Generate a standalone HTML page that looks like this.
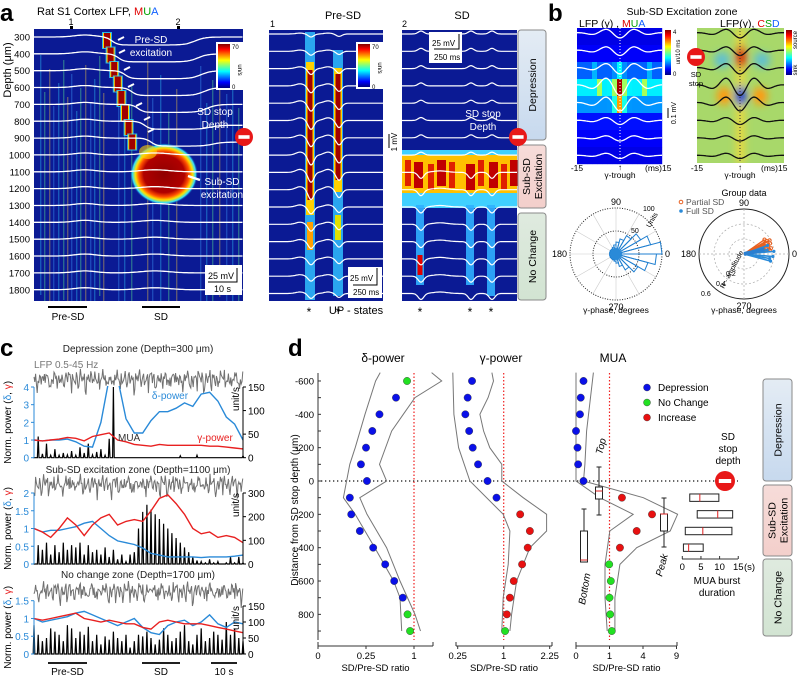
<!DOCTYPE html>
<html><head><meta charset="utf-8">
<style>
body{margin:0;background:#fff;}
svg{display:block;font-family:"Liberation Sans",Arial,sans-serif;}
</style></head><body>
<svg id="fig" width="800" height="676" viewBox="0 0 800 676" xmlns="http://www.w3.org/2000/svg">
<defs>
<linearGradient id="jetv" x1="0" y1="0" x2="0" y2="1">
<stop offset="0" stop-color="#800000"/><stop offset="0.12" stop-color="#ff0000"/><stop offset="0.37" stop-color="#ffff00"/><stop offset="0.62" stop-color="#00ffff"/><stop offset="0.87" stop-color="#0000ff"/><stop offset="1" stop-color="#000080"/>
</linearGradient>
<radialGradient id="blob" cx="0.5" cy="0.5" r="0.5">
<stop offset="0" stop-color="#900000"/><stop offset="0.6" stop-color="#b00000"/><stop offset="0.74" stop-color="#ff5000"/><stop offset="0.84" stop-color="#ffe000"/><stop offset="0.93" stop-color="#30e0ff"/><stop offset="1" stop-color="#0b1a94" stop-opacity="0"/>
</radialGradient>
<linearGradient id="gDep" x1="0" y1="0" x2="0" y2="1"><stop offset="0" stop-color="#e4ecf4"/><stop offset="1" stop-color="#c7d9ee"/></linearGradient>
<linearGradient id="gSub" x1="0" y1="0" x2="0" y2="1"><stop offset="0" stop-color="#f6dcd9"/><stop offset="1" stop-color="#f3cfcb"/></linearGradient>
<linearGradient id="gNo" x1="0" y1="0" x2="0" y2="1"><stop offset="0" stop-color="#dfeadf"/><stop offset="1" stop-color="#d2e4d2"/></linearGradient>
<filter id="blur3"><feGaussianBlur stdDeviation="4"/></filter>
<clipPath id="clipA"><rect x="34" y="29" width="209" height="272"/></clipPath>
<clipPath id="clipC1"><rect x="30" y="386" width="215" height="75"/></clipPath>
<clipPath id="clipBR"><rect x="697" y="28" width="87" height="135"/></clipPath>
</defs>

<text x="0" y="21" font-size="24" font-weight="bold">a</text>
<text x="548" y="21" font-size="24" font-weight="bold">b</text>
<text x="0" y="356" font-size="24" font-weight="bold">c</text>
<text x="288" y="356" font-size="24" font-weight="bold">d</text>

<text x="37" y="15" font-size="11">Rat S1 Cortex LFP, <tspan fill="#e00000">M</tspan><tspan fill="#00a000">U</tspan><tspan fill="#1060ff">A</tspan></text>
<text x="71" y="25" font-size="9" text-anchor="middle">1</text>
<rect x="70" y="26" width="3" height="3" fill="#000"/>
<text x="178" y="25" font-size="9" text-anchor="middle">2</text>
<rect x="177" y="26" width="3" height="3" fill="#000"/>
<text x="11" y="70" font-size="11" text-anchor="middle" transform="rotate(-90 11 70)">Depth (μm)</text>
<g id="gA"></g>
<text x="343" y="19" font-size="11" text-anchor="middle">Pre-SD</text>
<text x="462" y="19" font-size="11" text-anchor="middle">SD</text>
<text x="270" y="27" font-size="9">1</text>
<text x="402" y="27" font-size="9">2</text>
<g id="gM"></g>
<g id="gB"></g>
<g id="gC"></g>
<g id="gD"></g>
</svg>
<script>
const NS='http://www.w3.org/2000/svg';
function mk(tag,attrs,parent){const e=document.createElementNS(NS,tag);for(const k in attrs)e.setAttribute(k,attrs[k]);parent.appendChild(e);return e;}
function txt(s,x,y,attrs,parent){const e=mk('text',Object.assign({x:x,y:y,'font-size':10},attrs),parent);e.textContent=s;return e;}
function jet(t){t=Math.max(0,Math.min(1,t));const c=v=>Math.round(255*Math.max(0,Math.min(1,v)));return `rgb(${c(1.5-Math.abs(4*t-3))},${c(1.5-Math.abs(4*t-2))},${c(1.5-Math.abs(4*t-1))})`;}
function pts(arr){return arr.map(p=>p[0].toFixed(1)+','+p[1].toFixed(1)).join(' ');}

/* ================= DATA: panel d ================= */
const dDepths=[-600,-500,-400,-300,-200,-100,0,100,200,300,400,500,600,700,800,900];
const deltaVals=[0.86,0.66,0.41,0.32,0.25,0.20,0.26,0.11,0.12,0.19,0.33,0.49,0.63,0.78,0.87,0.92];
const deltaCls=['n','d','d','d','d','d','d','d','d','d','d','d','d','d','n','n'];
const gammaVals=[0.43,0.37,0.34,0.39,0.44,0.52,0.68,0.85,1.39,1.65,1.59,1.44,1.23,1.14,1.07,1.03];
const gammaCls=['d','d','d','d','d','d','d','d','i','i','i','i','i','i','i','n'];
const muaVals=[0.05,0.02,0.014,0,0.002,0.004,0.05,1.88,5.15,3.28,1.72,0.98,1.08,1.0,1.04,1.14];
const muaCls=['d','d','d','d','d','d','d','i','i','i','i','n','n','n','n','n'];
const deltaEnvLoD=[-650,-600,-400,-200,-100,100,200,400,600,700,900];
const deltaEnvLo=[0.42,0.36,0.24,0.15,0.11,0.07,0.15,0.35,0.62,0.73,0.76];
const deltaEnvHiD=[-650,-600,-500,-400,-300,-100,0,100,200,400,600,800,900];
const deltaEnvHi=[1.40,1.66,1.02,0.79,0.59,0.41,0.51,0.19,0.26,0.51,0.73,1.02,1.14];
const gammaEnvLoD=[-650,-400,-200,0,200,300,500,700,900];
const gammaEnvLo=[0.20,0.21,0.26,0.40,0.99,1.14,1.10,0.99,0.96];
const gammaEnvHiD=[-650,-600,-500,-400,-300,-200,-100,0,100,200,300,400,600,800,900];
const gammaEnvHi=[0.76,0.79,0.69,0.55,0.61,0.72,0.96,0.96,1.47,2.15,2.15,1.65,1.30,1.18,1.14];
const muaEnvLoD=[-650,0,100,200,300,500,700,900];
const muaEnvLo=[0,0,0.51,2.92,1.02,0.75,0.75,0.87];
const muaEnvHiD=[-650,-300,-100,0,100,200,300,400,500,700,900];
const muaEnvHi=[0.27,0.10,0.07,0.05,4.04,9.2,7.9,3.28,1.72,1.35,1.35];
const boxTop=[-84,36,60,108,204];
const boxBottom=[168,300,474,486,486];
const boxPeak=[102,198,198,300,396];
const burstDepths=[100,200,300,400];
const burstLo=[2,4,0.8,0.3];
const burstHi=[9.8,13.5,13.3,5.6];
const burstMed=[4.7,9.5,5.5,1.7];
const depthTicks=[-600,-400,-200,0,200,400,600,800];
const deltaTicks=[0,0.25,1];
const gammaTicks=[0.25,1,2.25];
const muaTicks=[0,1,4,9];
const burstTicks=[0,5,10,15];

/* ================= DATA: panel c ================= */
const cT=[0,4,8,12,16,20,24,28,32,36,40,44,48,52,56,60,64,68,72,76,80,84,88,92,96,100];
const delta1=[1.0,0.95,1.0,1.0,1.05,0.9,0.65,0.6,2.0,4.5,4.5,2.2,1.4,1.4,2.1,2.6,2.6,2.8,3.1,2.9,3.6,3.7,3.2,2.3,1.9,1.0];
const gamma1=[1.0,0.95,1.0,1.05,1.15,1.1,0.95,1.2,1.3,1.4,1.0,0.9,0.75,0.7,0.65,0.75,0.7,0.7,0.7,0.7,0.7,0.65,0.65,0.6,0.55,0.5];
const mua1=[0,45,8,30,5,18,5,10,6,14,5,22,10,30,6,12,18,5,40,150,0,0,0,0,0,0,0,0,0,0,0,0,0,0,0,4,0,0,0,5,0,0,0,0,0,0,0,0,0,0,4];
const delta2=[1.0,0.9,0.95,0.95,1.0,1.05,1.15,1.2,1.0,0.8,0.65,0.6,0.55,0.45,0.3,0.25,0.2,0.2,0.2,0.2,0.18,0.2,0.2,0.2,0.22,0.25];
const gamma2=[1.0,0.9,0.75,1.0,1.3,1.1,0.8,1.1,1.3,1.4,1.1,1.2,1.25,1.2,1.5,1.85,1.95,1.7,1.4,1.0,0.85,0.9,0.75,0.8,0.75,0.6];
const mua2=[0,80,60,90,40,80,50,90,60,80,70,90,40,80,50,60,40,70,30,60,20,40,10,40,50,150,220,250,230,210,190,170,150,130,110,90,70,50,30,15,10,5,20,5,10,0,5,30,5,30,5];
const delta3=[1.0,0.9,0.95,1.0,1.05,1.15,1.2,1.1,1.0,0.9,0.8,0.9,1.0,0.75,0.6,0.55,0.8,0.9,0.95,0.8,0.9,1.1,0.85,0.75,0.9,0.85];
const gamma3=[1.0,0.95,1.0,1.05,1.1,1.15,1.0,0.95,0.9,0.95,0.9,0.85,0.85,0.75,0.7,0.9,0.95,0.9,0.85,0.85,0.85,0.8,0.75,0.7,0.65,0.6];
const mua3=[90,60,40,50,80,70,60,40,90,80,50,70,60,85,40,60,30,55,45,70,50,40,60,20,40,60,55,70,50,30,45,80,60,40,50,70,90,40,30,60,80,40,50,70,60,45,100,60,80,50,40];

/* ================= DATA: panel b ================= */
const roseCounts=[100,78,62,46,34,26,20,16,14,14,14,14,14,14,14,14,14,16,20,28,40,55,72,88];
const gpPartialAng=[12,18,25,30,22,35,8,15,28];
const gpPartialR=[0.55,0.5,0.48,0.52,0.56,0.5,0.52,0.45,0.58];
const gpFullAng=[-5,-15,5,20,10,-10];
const gpFullR=[0.58,0.55,0.6,0.5,0.47,0.52];

const gA=document.getElementById('gA'),gM=document.getElementById('gM'),gB=document.getElementById('gB'),gC=document.getElementById('gC'),gD=document.getElementById('gD');
const BLUE_BG='#0b1a94';

/* ================= Panel a main heatmap ================= */
(function(){
  const hm=mk('g',{'clip-path':'url(#clipA)'},gA);
  mk('rect',{x:34,y:29,width:209,height:272,fill:BLUE_BG},hm);
  const nx=[40,44,49,53,58,63,67,71,76,80,85,90,94,99,103,118,124,131,147,152,160,168,176,200,206,212,219,226,232,238];
  nx.forEach((x,k)=>{mk('rect',{x:x,y:55+(k*37)%60,width:1.4,height:240,fill:['#30d0ff','#60ff90','#ffd040','#40a0ff'][k%4],opacity:0.35},hm);});
  for(let k=0;k<8;k++){
    const cx=107+k*3.6,y=32+k*14.5;
    mk('rect',{x:cx-5,y:y,width:10,height:17,fill:'#30e0ff',opacity:0.8},hm);
    mk('rect',{x:cx-4,y:y+1,width:8,height:15,fill:'#ffd000'},hm);
    mk('rect',{x:cx-3,y:y+1,width:6,height:15,fill:'#a00000'},hm);
  }
  mk('ellipse',{cx:164,cy:174,rx:34,ry:31,fill:'url(#blob)'},hm);
  mk('ellipse',{cx:148,cy:152,rx:9,ry:7,fill:'#ffd000',opacity:0.6},hm);
  for(let i=0;i<16;i++){
    const y0=37+i*16.85,p=[];
    for(let x=34;x<=243;x+=1.5){
      let y=y0-2*Math.exp(-Math.pow((x-85)/15,2));
      if(i<=6){const xs=112+i*6.5;y+=8/(1+Math.exp(-(x-xs)/3));const xr=195+i*3;y-=(i<=4?8:4)/(1+Math.exp(-(x-xr)/5));}
      else{y-=2*Math.exp(-Math.pow((x-155)/20,2));}
      p.push([x,y]);
    }
    const tr=mk('polyline',{points:pts(p),fill:'none',stroke:'#fff','stroke-width':1.3},hm);
    
    
  }
  mk('rect',{x:216,y:42,width:28,height:48,fill:'#fff'},gA);
  const cb=mk('rect',{x:218,y:44,width:12,height:44,fill:'url(#jetv)'},gA);
  
  
  txt('70',232,49,{'font-size':6},gA);txt('0',232,89,{'font-size':6},gA);
  txt('un/s',238,70,{'font-size':6,transform:'rotate(90 238 70)','text-anchor':'middle'},gA);
  for(let d=300;d<=1800;d+=100){const t=txt(String(d),30,37+(d-300)*0.1685+3.5,{'font-size':9.5,'text-anchor':'end'},gA);}
  txt('Pre-SD',151,43,{'font-size':10,fill:'#fff','text-anchor':'middle'},gA);
  txt('excitation',151,56,{'font-size':10,fill:'#fff','text-anchor':'middle'},gA);
  txt('SD stop',215,115,{'font-size':10,fill:'#fff','text-anchor':'middle'},gA);
  txt('Depth',215,128,{'font-size':10,fill:'#fff','text-anchor':'middle'},gA);
  txt('Sub-SD',222,185,{'font-size':10,fill:'#fff','text-anchor':'middle'},gA);
  txt('excitation',222,198,{'font-size':10,fill:'#fff','text-anchor':'middle'},gA);
  [[118,40],[119,53],[124,70],[128,87],[136,106],[144,120],[148,132]].forEach(a=>{mk('line',{x1:a[0]+6,y1:a[1]-3,x2:a[0],y2:a[1],stroke:'#fff','stroke-width':2},gA);});
  mk('line',{x1:200,y1:180,x2:188,y2:176,stroke:'#fff','stroke-width':2.5},gA);
  function stop(cx,cy,r,par){const g=mk('g',{},par);mk('circle',{cx:cx,cy:cy,r:r,fill:'#e81818'},g);mk('rect',{x:cx-r*0.62,y:cy-r*0.2,width:r*1.24,height:r*0.4,fill:'#fff'},g);return g;}
  window.stop=stop;
  const s1=stop(244,137,9,gA);
  mk('rect',{x:205,y:265,width:37,height:30,fill:'#fff'},gA);
  txt('25 mV',208,279,{'font-size':9},gA);txt('10 s',214,292,{'font-size':9},gA);
  mk('polyline',{points:'237,268 237,282 208,282',fill:'none',stroke:'#000','stroke-width':1},gA);
  mk('line',{x1:48,y1:307,x2:87,y2:307,stroke:'#000','stroke-width':2},gA);
  mk('line',{x1:142,y1:307,x2:180,y2:307,stroke:'#000','stroke-width':2},gA);
  txt('Pre-SD',68,320,{'font-size':10,'text-anchor':'middle'},gA);
  txt('SD',161,320,{'font-size':10,'text-anchor':'middle'},gA);
})();

/* ================= Panel a zoom panels ================= */
(function(){
  mk('rect',{x:269,y:30,width:114,height:271,fill:BLUE_BG},gM);
  mk('rect',{x:402,y:30,width:115,height:271,fill:BLUE_BG},gM);
  function col(x,y1,y2,w,c,op){mk('rect',{x:x-w/2,y:y1,width:w,height:y2-y1,fill:c,opacity:op||1},gM);}
  col(310,32,300,10,'#30c0ff',0.85);col(310,62,215,8,'#ffd000');col(310,70,200,5,'#a00000');col(310,222,250,6,'#ffa000');
  col(338,50,296,10,'#30c0ff',0.85);col(338,68,192,8,'#ffd000');col(338,74,180,5,'#a00000');col(338,215,240,6,'#e0e000');
  mk('rect',{x:402,y:150,width:115,height:58,fill:'#40d0ff'},gM);
  mk('rect',{x:402,y:155,width:115,height:38,fill:'#ffc000'},gM);
  [405,414,428,437,449,466,478,489,501,510].forEach((x,k)=>{mk('rect',{x:x,y:160+(k%3)*2,width:6+(k%2)*3,height:26,fill:k%2?'#c00000':'#e02000'},gM);});
  col(420,205,285,8,'#30b0ff',0.9);col(420,255,275,5,'#e00000');
  col(470,205,285,8,'#30b0ff',0.9);col(491,205,296,8,'#30b0ff',0.9);
  const ampP=[3,4,6,7,8,9,9,10,10,10,7,7,7,6,5,5];
  for(let i=0;i<16;i++){
    const y0=34+i*17.3;let p=[];
    for(let x=269;x<=383;x+=1){const g=dx=>Math.exp(-Math.pow(dx/4,2));let y=y0+ampP[i]*(g(x-311)+0.8*g(x-339))-0.3*ampP[i]*(Math.exp(-Math.pow((x-300)/6,2))+Math.exp(-Math.pow((x-328)/6,2)));p.push([x,y]);}
    const t1=mk('polyline',{points:pts(p),fill:'none',stroke:'#fff','stroke-width':1.2},gM);
    
    
    p=[];
    for(let x=402;x<=517;x+=1){const g=dx=>Math.exp(-Math.pow(dx/4,2));const s=(g(x-421)+g(x-471)+g(x-492));let y=i<8?y0-3*s:y0+6*s-1.5*Math.exp(-Math.pow((x-440)/10,2));p.push([x,y]);}
    const t2=mk('polyline',{points:pts(p),fill:'none',stroke:'#fff','stroke-width':1.2},gM);
    
    
  }
  mk('rect',{x:356,y:42,width:27,height:47,fill:'#fff'},gM);
  mk('rect',{x:358,y:44,width:12,height:43,fill:'url(#jetv)'},gM);
  txt('70',372,49,{'font-size':6},gM);txt('0',372,89,{'font-size':6},gM);
  txt('un/s',378,68,{'font-size':6,transform:'rotate(90 378 68)','text-anchor':'middle'},gM);
  mk('rect',{x:348,y:267,width:34,height:31,fill:'#fff'},gM);
  txt('25 mV',350,281,{'font-size':8},gM);txt('250 ms',353,295,{'font-size':8},gM);
  mk('polyline',{points:'377,268 377,285 353,285',fill:'none',stroke:'#000'},gM);
  mk('rect',{x:429,y:32,width:33,height:31,fill:'#fff'},gM);
  txt('25 mV',432,46,{'font-size':8},gM);txt('250 ms',434,60,{'font-size':8},gM);
  mk('polyline',{points:'459,34 459,49 434,49',fill:'none',stroke:'#000'},gM);
  mk('line',{x1:389,y1:134,x2:389,y2:148,stroke:'#000'},gM);
  txt('1 mV',397,142,{'font-size':8,transform:'rotate(-90 397 142)','text-anchor':'middle'},gM);
  txt('SD stop',483,117,{'font-size':10,fill:'#fff','text-anchor':'middle'},gM);
  txt('Depth',483,130,{'font-size':10,fill:'#fff','text-anchor':'middle'},gM);
  [309,338,420,470,491].forEach(x=>{const s=txt('*',x,316,{'font-size':12,'text-anchor':'middle'},gM);});
  txt('UP - states',356,314,{'font-size':11,'text-anchor':'middle'},gM);
  function zone(y,h,fill,label,name,par,x,w){const g=mk('g',{},par);mk('rect',{x:x,y:y,width:w,height:h,rx:3,fill:fill,stroke:'#8a8a8a','stroke-width':1},g);const cx=x+w/2,cy=y+h/2;const lines=label.split('|');lines.forEach((l,k)=>{const lx=cx+4+(k-(lines.length-1)/2)*12;txt(l,lx,cy,{'font-size':10.5,'text-anchor':'middle',transform:`rotate(-90 ${lx} ${cy})`},g);});}
  window.zone=zone;
  zone(30,110,'url(#gDep)','Depression','zone-depression',gM,518,28);
  zone(145,63,'url(#gSub)','Sub-SD|Excitation','zone-sub-sd',gM,518,28);
  zone(213,87,'url(#gNo)','No Change','zone-no-change',gM,518,28);
  const s2=stop(518,137,9,gM);
})();

/* ================= Panel b ================= */
(function(){
  txt('Sub-SD Excitation zone',682,15,{'font-size':10.5,'text-anchor':'middle'},gB);
  const t1=txt('',579,27,{'font-size':10.5},gB);t1.innerHTML='LFP (γ) , <tspan fill="#e00000">M</tspan><tspan fill="#00a000">U</tspan><tspan fill="#1060ff">A</tspan>';
  const t2=txt('',720,27,{'font-size':10.5},gB);t2.innerHTML='LFP(γ), <tspan fill="#e00000">C</tspan><tspan fill="#00a000">S</tspan><tspan fill="#1060ff">D</tspan>';
  const rowBase=[0.1,0.12,0.22,0.36,0.27,0.14,0.12,0.1];
  for(let r=0;r<8;r++)for(let c=0;c<17;c++){
    let v=rowBase[r]+(r>=2&&r<=4?[0.15,0.6,0.45][r-2]:0)*Math.exp(-Math.pow(c-8,2)/0.8);
    if(r===3&&(c===4||c===13))v+=0.18;
    if(r===2&&(c===3||c===14))v+=0.08;
    mk('rect',{x:577+c*5,y:28+r*17,width:5.2,height:17.2,fill:jet(v)},gB);
  }
  const rb=mk('g',{'clip-path':'url(#clipBR)'},gB);
  mk('rect',{x:697,y:28,width:87,height:135,fill:'#a8d86a'},rb);
  const bl=mk('g',{filter:'url(#blur3)'},rb);
  mk('rect',{x:736,y:28,width:9,height:135,fill:'#e8d840'},bl);
  mk('ellipse',{cx:741,cy:57,rx:5,ry:12,fill:'#e02000'},bl);
  mk('ellipse',{cx:741,cy:96,rx:5,ry:10,fill:'#1030e0'},bl);
  mk('ellipse',{cx:724,cy:96,rx:7,ry:9,fill:'#ff9a10'},bl);
  mk('ellipse',{cx:760,cy:96,rx:7,ry:9,fill:'#ff9a10'},bl);
  mk('ellipse',{cx:722,cy:60,rx:8,ry:8,fill:'#60c0d0'},bl);
  mk('ellipse',{cx:762,cy:60,rx:8,ry:8,fill:'#60c0d0'},bl);
  const A=[5,5,6,10,8,4,3,3];
  for(let i=0;i<8;i++){
    const y0=33+i*17.5;
    [[577,662,620,'#fff'],[697,784,740,'#111']].forEach(q=>{
      const p=[];for(let x=q[0];x<=q[1];x+=1){const d=x-q[2];p.push([x,y0+A[i]*Math.cos(2*Math.PI*d/30)*Math.exp(-Math.pow(d/26,2))]);}
      const l=mk('polyline',{points:pts(p),fill:'none',stroke:q[3],'stroke-width':1.3},q[3]==='#fff'?gB:rb);
      
      
    });
  }
  mk('line',{x1:620,y1:28,x2:620,y2:163,stroke:'#fff','stroke-dasharray':'1,2'},gB);
  mk('line',{x1:740,y1:28,x2:740,y2:163,stroke:'#333','stroke-dasharray':'1,2'},gB);
  mk('rect',{x:665,y:30,width:6,height:45,fill:'url(#jetv)'},gB);
  txt('4',673,34,{'font-size':6},gB);txt('0',673,76,{'font-size':6},gB);
  txt('un/10 ms',680,52,{'font-size':6,transform:'rotate(-90 680 52)','text-anchor':'middle'},gB);
  mk('line',{x1:668,y1:108,x2:668,y2:118,stroke:'#000'},gB);
  txt('0.1 mV',676,113,{'font-size':7,transform:'rotate(-90 676 113)','text-anchor':'middle'},gB);
  mk('rect',{x:786,y:30,width:6,height:45,fill:'url(#jetv)'},gB);
  txt('source',797,40,{'font-size':6,transform:'rotate(-90 797 40)','text-anchor':'middle'},gB);
  txt('sink',797,70,{'font-size':6,transform:'rotate(-90 797 70)','text-anchor':'middle'},gB);
  const s3=stop(696,57,9,gB);
  txt('SD',696,77,{'font-size':7.5,'text-anchor':'middle'},gB);txt('stop',696,86,{'font-size':7.5,'text-anchor':'middle'},gB);
  [[577,'-15'],[697,'-15']].forEach(a=>txt(a[1],a[0],171,{'font-size':8.5,'text-anchor':'middle'},gB));
  txt('(ms)15',645,171,{'font-size':8.5},gB);txt('(ms)15',761,171,{'font-size':8.5},gB);
  txt('↑',620,170,{'font-size':8,'text-anchor':'middle'},gB);txt('↑',740,170,{'font-size':8,'text-anchor':'middle'},gB);
  txt('γ-trough',620,178,{'font-size':8.5,'text-anchor':'middle'},gB);txt('γ-trough',740,178,{'font-size':8.5,'text-anchor':'middle'},gB);
  const cx=616,cy=254,R=46;
  mk('circle',{cx:cx,cy:cy,r:R,fill:'none',stroke:'#222','stroke-dasharray':'1,1.5'},gB);
  mk('circle',{cx:cx,cy:cy,r:R*0.5,fill:'none',stroke:'#222','stroke-dasharray':'1,1.5'},gB);
  for(let a=0;a<180;a+=30){const r=a*Math.PI/180;mk('line',{x1:cx-R*Math.cos(r),y1:cy+R*Math.sin(r),x2:cx+R*Math.cos(r),y2:cy-R*Math.sin(r),stroke:'#ccc','stroke-width':0.6},gB);}
  roseCounts.forEach((c,k)=>{const a0=k*15*Math.PI/180,a1=(k+1)*15*Math.PI/180,r=c/100*R;
    const pth=mk('path',{d:`M${cx},${cy} L${cx+r*Math.cos(a0)},${cy-r*Math.sin(a0)} L${cx+r*Math.cos(a1)},${cy-r*Math.sin(a1)} Z`,fill:'none',stroke:'#1f7fd0','stroke-width':1},gB);
    
    });
  mk('circle',{cx:cx,cy:cy,r:6,fill:'#2a8ad8'},gB);
  txt('90',cx,cy-R-3,{'font-size':9,'text-anchor':'middle'},gB);txt('180',cx-R-3,cy+3,{'font-size':9,'text-anchor':'end'},gB);
  txt('0',cx+R+3,cy+3,{'font-size':9},gB);txt('270',cx,cy+R+10,{'font-size':9,'text-anchor':'middle'},gB);
  txt('100',cx+27,cy-43,{'font-size':7},gB);txt('50',cx+15,cy-21,{'font-size':7},gB);
  txt('Units',cx+34,cy-26,{'font-size':7,transform:`rotate(-60 ${cx+34} ${cy-26})`},gB);
  txt('γ-phase, degrees',cx,313,{'font-size':8.5,'text-anchor':'middle'},gB);
  const gx=744,gy=254,GR=45;
  txt('Group data',gx,196,{'font-size':9,'text-anchor':'middle'},gB);
  mk('circle',{cx:gx,cy:gy,r:GR,fill:'none',stroke:'#222','stroke-width':1},gB);
  [GR*2/3,GR/3].forEach(r=>mk('circle',{cx:gx,cy:gy,r:r,fill:'none',stroke:'#aaa','stroke-dasharray':'2,2','stroke-width':0.7},gB));
  mk('line',{x1:gx-GR,y1:gy,x2:gx+GR,y2:gy,stroke:'#aaa','stroke-dasharray':'2,2','stroke-width':0.7},gB);
  mk('line',{x1:gx,y1:gy-GR,x2:gx,y2:gy+GR,stroke:'#aaa','stroke-dasharray':'2,2','stroke-width':0.7},gB);
  const pol=(a,r)=>[gx+r/0.9*GR*Math.cos(a*Math.PI/180),gy-r/0.9*GR*Math.sin(a*Math.PI/180)];
  gpPartialAng.forEach((a,k)=>{const p=pol(a,gpPartialR[k]);mk('line',{x1:gx,y1:gy,x2:p[0],y2:p[1],stroke:'#e86020','stroke-width':1.4},gB);const c=mk('circle',{cx:p[0],cy:p[1],r:1.6,fill:'none',stroke:'#e86020'},gB);});
  gpFullAng.forEach((a,k)=>{const p=pol(a,gpFullR[k]);mk('line',{x1:gx,y1:gy,x2:p[0],y2:p[1],stroke:'#2a8ad8','stroke-width':1.6},gB);const c=mk('circle',{cx:p[0],cy:p[1],r:1.6,fill:'#2a8ad8'},gB);});
  const pe=pol(12,0.42);mk('line',{x1:gx,y1:gy,x2:pe[0],y2:pe[1],stroke:'#2a7fd0','stroke-width':4},gB);
  txt('90',gx,gy-GR-3,{'font-size':9,'text-anchor':'middle'},gB);txt('180',gx-GR-3,gy+3,{'font-size':9,'text-anchor':'end'},gB);
  txt('0',gx+GR+3,gy+3,{'font-size':9},gB);txt('270',gx,gy+GR+10,{'font-size':9,'text-anchor':'middle'},gB);
  txt('0.2',gx-18,gy+22,{'font-size':7},gB);txt('0.4',gx-28,gy+32,{'font-size':7},gB);txt('0.6',gx-43,gy+42,{'font-size':7},gB);
  txt('R - amplitude',gx-20,gy+35,{'font-size':7,transform:`rotate(-62 ${gx-20} ${gy+35})`},gB);
  txt('γ-phase, degrees',gx,313,{'font-size':8.5,'text-anchor':'middle'},gB);
  mk('circle',{cx:681,cy:202,r:1.8,fill:'none',stroke:'#e86020'},gB);txt('Partial SD',686,205,{'font-size':8.5,fill:'#555'},gB);
  mk('circle',{cx:681,cy:211,r:1.8,fill:'#2a8ad8'},gB);txt('Full SD',686,214,{'font-size':8.5,fill:'#555'},gB);
})();

/* ================= Panel c ================= */
(function(){
  const X0=34,X1=243,xs=t=>X0+t*(X1-X0)/100;
  const plots=[
    {title:'Depression zone (Depth=300 μm)',ty:352,base:457.7,top:387,vmax:4,ticksL:[0,1,2,3,4],mmax:150,mtop:387,ticksR:[0,50,100,150],lfp:378,d:delta1,g:gamma1,m:mua1,clip:true},
    {title:'Sub-SD excitation zone (Depth=1100 μm)',ty:473,base:564,top:493,vmax:2,ticksL:[0,0.5,1,1.5,2],mmax:300,mtop:493,ticksR:[0,100,200,300],lfp:483,d:delta2,g:gamma2,m:mua2},
    {title:'No change zone (Depth=1700 μm)',ty:578,base:654,top:600.7,vmax:1.5,ticksL:[0,0.5,1,1.5],mmax:150,mtop:606,ticksR:[0,50,100,150],lfp:590,d:delta3,g:gamma3,m:mua3}
  ];
  plots.forEach((P,pi)=>{
    const g=mk('g',{},gC);
    
    
    txt(P.title,138,P.ty,{'font-size':10,'text-anchor':'middle',fill:'#222'},g);
    const ys=v=>P.base-v*(P.base-P.top)/P.vmax, ym=v=>P.base-v*(P.base-P.mtop)/P.mmax;
    let lp=[];for(let x=X0;x<=X1;x+=0.8){const n=Math.sin(x*1.7)+Math.sin(x*3.1+pi)*0.8+Math.sin(x*0.53)*0.6;lp.push([x,P.lfp+n*4+(Math.sin(x*0.9+pi*2)>0.85?9:0)]);}
    const lf=mk('polyline',{points:pts(lp),fill:'none',stroke:'#707070','stroke-width':1},g);
    
    
    let mp=[];P.m.forEach((v,k)=>{const x=xs(k*2);mp.push([x-0.8,P.base],[x,ym(v)],[x+0.8,P.base]);});
    const mu=mk('polyline',{points:pts(mp),fill:'none',stroke:'#000','stroke-width':1.2},g);
    
    
    const holder=P.clip?mk('g',{'clip-path':'url(#clipC1)'},g):g;
    const dl=mk('polyline',{points:pts(cT.map((t,k)=>[xs(t),ys(P.d[k])])),fill:'none',stroke:'#2a8ad8','stroke-width':1.4},holder);
    
    
    const gl=mk('polyline',{points:pts(cT.map((t,k)=>[xs(t),ys(P.g[k])])),fill:'none',stroke:'#e82020','stroke-width':1.4},holder);
    
    
    mk('line',{x1:X0,y1:P.top,x2:X0,y2:P.base,stroke:'#2a8ad8'},g);
    P.ticksL.forEach(v=>{mk('line',{x1:X0-3,y1:ys(v),x2:X0,y2:ys(v),stroke:'#2a8ad8'},g);txt(String(v),X0-5,ys(v)+4,{'font-size':10,'text-anchor':'end',fill:'#2a8ad8'},g);});
    mk('line',{x1:X1,y1:P.mtop,x2:X1,y2:P.base,stroke:'#000'},g);
    P.ticksR.forEach(v=>{mk('line',{x1:X1,y1:ym(v),x2:X1+3,y2:ym(v),stroke:'#000'},g);txt(String(v),X1+5,ym(v)+4,{'font-size':10},g);});
    const cyL=(P.top+P.base)/2;
    const yl=txt('',11,cyL,{'font-size':10,'text-anchor':'middle',transform:`rotate(-90 11 ${cyL})`},g);
    yl.innerHTML='Norm. power (<tspan fill="#2a8ad8">δ</tspan>, <tspan fill="#e82020">γ</tspan>)';
    txt('unit/s',X1-4,P.mtop+12,{'font-size':10,'text-anchor':'middle',transform:`rotate(-90 ${X1-4} ${P.mtop+12})`},g);
  });
  txt('LFP 0.5-45 Hz',34,368,{'font-size':10,fill:'#777'},gC);
  txt('δ-power',170,399,{'font-size':10,fill:'#2a8ad8','text-anchor':'middle'},gC);
  txt('MUA',118,441,{'font-size':10,fill:'#333'},gC);
  txt('γ-power',215,441,{'font-size':10,fill:'#e82020','text-anchor':'middle'},gC);
  [[48,87,'Pre-SD'],[142,180,'SD'],[211,237,'10 s']].forEach(b=>{mk('line',{x1:b[0],y1:663,x2:b[1],y2:663,stroke:'#000','stroke-width':1.8},gC);txt(b[2],(b[0]+b[1])/2,675,{'font-size':10,'text-anchor':'middle'},gC);});
})();

/* ================= Panel d ================= */
(function(){
  const yD=d=>481+d*0.1667;
  const xDelta=v=>318+Math.sqrt(v)*96, xGamma=v=>457.7+(Math.sqrt(v)-0.5)*92, xMua=v=>576+Math.sqrt(v)*33.5;
  const col={d:'#0a10e8',n:'#22e022',i:'#e81010'};
  txt('δ-power',383,362,{'font-size':12,'text-anchor':'middle'},gD);
  txt('γ-power',501,362,{'font-size':12,'text-anchor':'middle'},gD);
  txt('MUA',613,362,{'font-size':12,'text-anchor':'middle'},gD);
  txt('Distance from SD stop depth (μm)',298,510,{'font-size':10,'text-anchor':'middle',transform:'rotate(-90 298 510)'},gD);
  mk('line',{x1:318,y1:373,x2:318,y2:640,stroke:'#333'},gD);
  for(let d=-600;d<=900;d+=100)mk('line',{x1:318,y1:yD(d),x2:321,y2:yD(d),stroke:'#333'},gD);
  depthTicks.forEach(d=>{const t=txt(String(d),314,yD(d)+3.5,{'font-size':9.5,'text-anchor':'end'},gD);});
  mk('line',{x1:321,y1:481,x2:738,y2:481,stroke:'#111','stroke-width':1.3,'stroke-dasharray':'1.3,2.7'},gD);
  const panels=[
    {x:xDelta,vals:deltaVals,cls:deltaCls,lo:[deltaEnvLoD,deltaEnvLo],hi:[deltaEnvHiD,deltaEnvHi],ticks:deltaTicks,a0:318,a1:433,name:'delta'},
    {x:xGamma,vals:gammaVals,cls:gammaCls,lo:[gammaEnvLoD,gammaEnvLo],hi:[gammaEnvHiD,gammaEnvHi],ticks:gammaTicks,a0:456,a1:552,name:'gamma'},
    {x:xMua,vals:muaVals,cls:muaCls,lo:[muaEnvLoD,muaEnvLo],hi:[muaEnvHiD,muaEnvHi],ticks:muaTicks,a0:576,a1:677,name:'mua'}
  ];
  panels.forEach(P=>{
    const g=mk('g',{},gD);
    
    
    mk('line',{x1:P.x(1),y1:373,x2:P.x(1),y2:640,stroke:'#f02020','stroke-width':1.2,'stroke-dasharray':'1.5,2'},g);
    [P.lo,P.hi].forEach(e=>{const l=mk('polyline',{points:pts(e[0].map((d,k)=>[P.x(e[1][k]),yD(d)])),fill:'none',stroke:'#777','stroke-width':1},g);});
    P.vals.forEach((v,k)=>{const c=mk('circle',{cx:P.x(v),cy:yD(dDepths[k]),r:3.7,fill:col[P.cls[k]],stroke:'#333','stroke-width':0.4},g);});
    mk('line',{x1:P.a0,y1:646,x2:P.a1,y2:646,stroke:'#333'},g);
    mk('line',{x1:P.a0,y1:642,x2:P.a0,y2:646,stroke:'#333'},g);mk('line',{x1:P.a1,y1:642,x2:P.a1,y2:646,stroke:'#333'},g);
    P.ticks.forEach(v=>{mk('line',{x1:P.x(v),y1:646,x2:P.x(v),y2:649,stroke:'#333'},g);txt(String(v),P.x(v),659,{'font-size':9.5,'text-anchor':'middle'},g);});
    txt('SD/Pre-SD ratio',(P.a0+P.a1)/2,671,{'font-size':9.5,'text-anchor':'middle'},g);
  });
  function box(x,b,name){const g=mk('g',{},gD);
    mk('line',{x1:x,y1:yD(b[0]),x2:x,y2:yD(b[4]),stroke:'#222'},g);
    mk('line',{x1:x-2.5,y1:yD(b[0]),x2:x+2.5,y2:yD(b[0]),stroke:'#222'},g);mk('line',{x1:x-2.5,y1:yD(b[4]),x2:x+2.5,y2:yD(b[4]),stroke:'#222'},g);
    mk('rect',{x:x-3.5,y:yD(b[1]),width:7,height:yD(b[3])-yD(b[1]),fill:'#fff',stroke:'#222'},g);
    mk('line',{x1:x-3.5,y1:yD(b[2]),x2:x+3.5,y2:yD(b[2]),stroke:'#e02020'},g);}
  box(599,boxTop,'top-boxplot');box(584,boxBottom,'bottom-boxplot');box(664,boxPeak,'peak-boxplot');
  txt('Top',602,455,{'font-size':10,'font-style':'italic',transform:'rotate(-75 602 455)'},gD);
  txt('Bottom',585,605,{'font-size':10,'font-style':'italic',transform:'rotate(-80 585 605)'},gD);
  txt('Peak',662,577,{'font-size':10,'font-style':'italic',transform:'rotate(-75 662 577)'},gD);
  [['Depression','d',391],['No Change','n',406],['Increase','i',421]].forEach(l=>{const g=mk('g',{},gD);mk('circle',{cx:647,cy:l[2]-3.5,r:3.5,fill:col[l[1]],stroke:'#333','stroke-width':0.4},g);txt(l[0],658,l[2],{'font-size':10},g);});
  txt('SD',728,440,{'font-size':10,'text-anchor':'middle'},gD);txt('stop',728,452,{'font-size':10,'text-anchor':'middle'},gD);txt('depth',728,464,{'font-size':10,'text-anchor':'middle'},gD);
  const s4=stop(725,481,10,gD);
  const xB=s=>682.3+s*3.73;
  burstDepths.forEach((d,k)=>{const b=mk('rect',{x:xB(burstLo[k]),y:yD(d)-3.7,width:xB(burstHi[k])-xB(burstLo[k]),height:7.4,fill:'#fff',stroke:'#222'},gD);mk('line',{x1:xB(burstMed[k]),y1:yD(d)-3.7,x2:xB(burstMed[k]),y2:yD(d)+3.7,stroke:'#e02020'},gD);});
  mk('line',{x1:682,y1:559,x2:738,y2:559,stroke:'#333'},gD);
  burstTicks.forEach(s=>{mk('line',{x1:xB(s),y1:556,x2:xB(s),y2:559,stroke:'#333'},gD);txt(String(s),xB(s),570,{'font-size':9.5,'text-anchor':'middle'},gD);});
  txt('(s)',744,570,{'font-size':9.5},gD);
  txt('MUA burst',717,584,{'font-size':10,'text-anchor':'middle'},gD);txt('duration',717,596,{'font-size':10,'text-anchor':'middle'},gD);
  zone(379,102,'url(#gDep)','Depression','zone-depression-d',gD,763,29);
  zone(485,71,'url(#gSub)','Sub-SD|Excitation','zone-sub-sd-d',gD,763,29);
  zone(559,77,'url(#gNo)','No Change','zone-no-change-d',gD,763,29);
})();
</script>
</body></html>
